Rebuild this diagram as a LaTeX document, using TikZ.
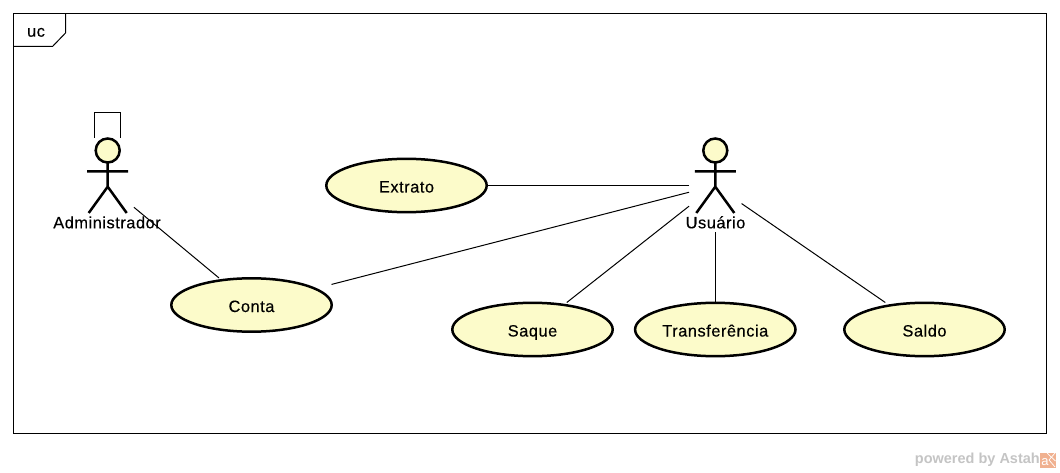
\documentclass[tikz,border=0pt]{standalone}
\usepackage{fontspec}
\setmainfont{Liberation Sans}
\newfontfamily\diagfont[LetterSpace=3.2,FakeBold=0.25]{Liberation Sans}
\definecolor{ucfill}{HTML}{FCFBCA}
\definecolor{wm}{HTML}{C4C4C4}
\definecolor{logo}{HTML}{F0B190}
\tikzset{
  x=1pt,y=-1pt,
  lbl/.style={font=\diagfont\fontsize{16.4}{18}\selectfont,inner sep=0pt,text=black,text height=12pt,text depth=0pt},
  conn/.style={line width=1pt,draw=black},
  usecase/.style={rectangle,draw=none,minimum width=166pt,minimum height=60pt,outer sep=-3pt,inner sep=0pt,lbl,text height=14pt,
    path picture={\draw[line width=2.5pt,fill=ucfill] (path picture bounding box.center) ellipse (80.2pt and 26.7pt);}},
  actor/.style={rectangle,draw=none,minimum width=58.5pt,minimum height=100pt,outer sep=-3pt,inner sep=0pt,
    path picture={
      \begin{scope}[shift={(path picture bounding box.center)}]
      \draw[line width=2.5pt,fill=ucfill] (0,-35) circle (12pt);
      \draw[line width=2.5pt] (0,-23) -- (0,1.2) (-20.5,-14.2) -- (20.5,-14.2) (-19,27.5) -- (0,1.2) -- (19,27.5);
      \end{scope}}},
}
\begin{document}
\begin{tikzpicture}
\useasboundingbox (0,0) rectangle (1060,473);
\node[draw=black,line width=1pt,rectangle,minimum width=1033pt,minimum height=420pt,inner sep=0pt] (frame) at (529.5,223.5) {};
\node[lbl] (uc) at (36,30.7) {uc};
\coordinate (tabA) at (65.5,13.5);
\coordinate (tabB) at (13,46.5);
\draw[conn] (tabA) -- (65.5,33) -- (52.5,46.5) -- (tabB);

\node[actor] (admin) at (107.7,185.5) {};
\node[actor] (user) at (715.3,185.5) {};
\draw[conn] (94.3,138) -- (94.3,112.3) -- (120.7,112.3) -- (120.7,138);

\node[usecase] (extrato) at (406.5,185.5) {Extrato};
\node[usecase] (conta) at (251.5,305) {Conta};
\node[usecase] (saque) at (532.5,329.5) {Saque};
\node[usecase] (transf) at (715.3,329.5) {Transferência};
\node[usecase] (saldo) at (924.5,329.5) {Saldo};

\draw[conn] (admin) -- (conta);
\draw[conn] (user) -- (extrato);
\draw[conn] (user) -- (conta);
\draw[conn] (user) -- (saque);
\draw[conn] (user) -- (transf);
\draw[conn] (user) -- (saldo);

\node[lbl] (adminlbl) at (107,222.3) {Administrador};
\node[lbl] (userlbl) at (715.5,222.3) {Usuário};

\node[font=\bfseries\fontsize{14.5}{16}\selectfont,text=wm,inner sep=0pt,anchor=east] (wmark) at (1040,460) {powered by Astah};
\fill[logo] (1040,452.7) rectangle (1055.7,467.5);
\draw[white,line width=0.7pt] (1047,453) -- (1055.5,461) (1055,453) -- (1049,460) (1049,460) -- (1055,467);
\node[font=\fontsize{13}{13}\selectfont,text=white,inner sep=0pt] (logoa) at (1045,462.5) {a};
\end{tikzpicture}
\end{document}
